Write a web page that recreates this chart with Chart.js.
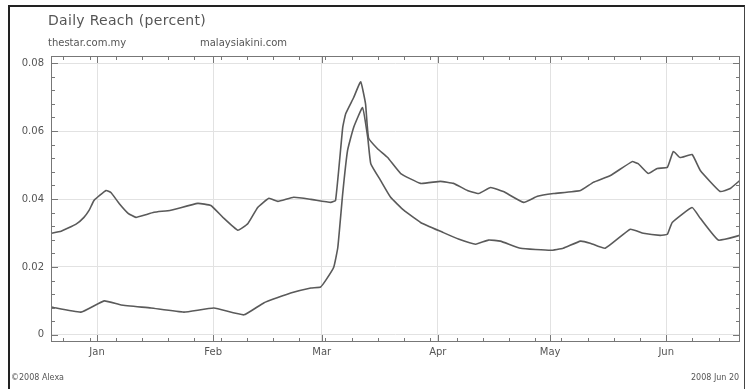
<!DOCTYPE html>
<html>
<head>
<meta charset="utf-8">
<script src="https://cdn.jsdelivr.net/npm/chart.js@4/dist/chart.umd.min.js"></script>
<style>
  body { margin: 0; width: 745px; height: 389px; overflow: hidden; background: #fff; position: relative;
         font-family: "DejaVu Sans", sans-serif; color: #555; }
  #frame { position: absolute; left: 8px; top: 5px; width: 734px; height: 400px;
           border-left: 2px solid #222; border-top: 2px solid #222; border-right: 1px solid #444; }
  #chartBox { position: absolute; left: 0; top: 0; width: 745px; height: 389px; }
  .txt { position: absolute; white-space: nowrap; }
  #title { left: 48px; top: 12px; font-size: 14px; letter-spacing: 0.3px; color: #555; }
  #leg1 { left: 48px; top: 37px; font-size: 10px; }
  #leg2 { left: 200px; top: 37px; font-size: 10px; }
  #foot1 { left: 11px; top: 373px; font-size: 8px; }
  #foot2 { left: 691px; top: 373px; font-size: 8px; }
</style>
</head>
<body>
<div id="frame"></div>
<div id="chartBox"><canvas id="chartCanvas"></canvas></div>
<div class="txt" id="title">Daily Reach (percent)</div>
<div class="txt" id="leg1">thestar.com.my</div>
<div class="txt" id="leg2">malaysiakini.com</div>
<div class="txt" id="foot1">©2008 Alexa</div>
<div class="txt" id="foot2">2008 Jun 20</div>
<script>
// days counted from 2008 Jan 1 (Dec 20 = -12, Jun 20 = 171)
const monthStarts = [0, 31, 60, 91, 121, 152];
const monthLabels = ['Jan', 'Feb', 'Mar', 'Apr', 'May', 'Jun'];
const reachTicks = [0, 0.02, 0.04, 0.06, 0.08];

const starDays = [-12.3, -9.6, -5.6, -3.5, -2.1, -0.8, 2.4, 3.7, 5.9, 8.3, 10.4, 12.5, 15.2, 19.7, 26.9,
                  30.4, 33.6, 37.6, 40.3, 42.9, 45.9, 48.3, 52.5, 57.1, 62.4, 63.7, 65.6, 66.4, 68.5, 70.4,
                  71.7, 72.5, 74.9, 77.6, 81.1, 86.4, 91.7, 95.2, 98.9, 101.9, 105.1, 108.5, 113.9, 117.6,
                  121.9, 129.1, 132.5, 137.1, 142.9, 144.5, 147.2, 149.6, 152.3, 153.9, 155.7, 158.9, 161.1,
                  166.4, 169.1, 171.7];
const starReach = [0.0299, 0.0305, 0.0326, 0.0346, 0.0367, 0.0396, 0.0425, 0.0419, 0.0387, 0.0358, 0.0346,
                   0.0352, 0.0361, 0.0367, 0.0387, 0.0381, 0.0346, 0.0308, 0.0328, 0.0375, 0.0402, 0.0393,
                   0.0405, 0.0399, 0.0390, 0.0396, 0.0610, 0.0651, 0.0698, 0.0745, 0.0680, 0.0580, 0.0548,
                   0.0522, 0.0475, 0.0446, 0.0452, 0.0446, 0.0425, 0.0416, 0.0434, 0.0422, 0.0390, 0.0408,
                   0.0416, 0.0425, 0.0449, 0.0469, 0.0510, 0.0504, 0.0475, 0.0490, 0.0493, 0.0540, 0.0522,
                   0.0531, 0.0484, 0.0422, 0.0431, 0.0455];

const kiniDays = [-12.3, -4.3, 1.9, 6.4, 14.4, 23.2, 31.2, 39.2, 44.5, 51.7, 57.1, 59.7, 61.1, 63.2, 64.3,
                  65.6, 66.9, 68.5, 70.9, 72.3, 73.1, 75.7, 78.4, 81.9, 86.4, 92.3, 96.5, 101.1, 104.5, 107.7,
                  113.1, 121.1, 124.5, 129.1, 131.7, 135.7, 142.4, 145.9, 150.4, 152.3, 153.6, 158.9, 161.1,
                  165.9, 171.7];
const kiniReach = [0.0082, 0.0067, 0.0100, 0.0088, 0.0079, 0.0067, 0.0079, 0.0059, 0.0094, 0.0123, 0.0138,
                   0.0141, 0.0161, 0.0199, 0.0258, 0.0416, 0.0543, 0.0610, 0.0669, 0.0580, 0.0504, 0.0455,
                   0.0405, 0.0367, 0.0331, 0.0302, 0.0282, 0.0267, 0.0279, 0.0276, 0.0255, 0.0249, 0.0255,
                   0.0276, 0.0270, 0.0255, 0.0311, 0.0299, 0.0293, 0.0296, 0.0331, 0.0375, 0.0343, 0.0279,
                   0.0293];

function toPoints(days, values) {
    return days.map((d, i) => ({x: d, y: values[i]}));
}

const frameTicks = {
    // plot frame plus the small inward tick marks of the original
    id: 'frameTicks',
    afterDatasetsDraw(chart) {
        const {ctx, chartArea: a, scales: {x, y}} = chart;
        ctx.save();
        ctx.strokeStyle = '#777';
        ctx.lineWidth = 1;
        ctx.strokeRect(a.left + 0.5, a.top + 0.5, a.right - a.left - 1, a.bottom - a.top - 1);
        ctx.beginPath();
        for (let d = -9; d <= 171; d += 7) {  // weekly (Sundays)
            const px = Math.round(x.getPixelForValue(d)) + 0.5;
            ctx.moveTo(px, a.bottom); ctx.lineTo(px, a.bottom - 4);
            ctx.moveTo(px, a.top); ctx.lineTo(px, a.top + 4);
        }
        monthStarts.forEach(d => {
            const px = Math.round(x.getPixelForValue(d)) + 0.5;
            ctx.moveTo(px, a.bottom); ctx.lineTo(px, a.bottom - 7);
            ctx.moveTo(px, a.top); ctx.lineTo(px, a.top + 7);
        });
        for (let k = 0; k <= 20; k++) {
            const v = k * 0.004;
            const py = Math.round(y.getPixelForValue(v)) + 0.5;
            const len = (k % 5 === 0) ? 7 : 4;
            ctx.moveTo(a.left, py); ctx.lineTo(a.left + len, py);
            ctx.moveTo(a.right, py); ctx.lineTo(a.right - len, py);
        }
        ctx.stroke();
        ctx.restore();
    }
};

const lineStyle = {
    borderColor: '#5a5a5a',
    borderWidth: 1.6,
    pointRadius: 0,
    tension: 0.12,
    fill: false
};

new Chart(document.getElementById('chartCanvas').getContext('2d'), {
    type: 'line',
    data: {
        datasets: [
            Object.assign({label: 'thestar.com.my', data: toPoints(starDays, starReach)}, lineStyle),
            Object.assign({label: 'malaysiakini.com', data: toPoints(kiniDays, kiniReach)}, lineStyle)
        ]
    },
    options: {
        responsive: true,
        maintainAspectRatio: false,
        animation: false,
        layout: {padding: {left: 0, right: 5, top: 56, bottom: 0}},
        plugins: {
            legend: {display: false},
            tooltip: {enabled: false}
        },
        scales: {
            x: {
                type: 'linear',
                min: -12.3,
                max: 171.7,
                afterBuildTicks: (scale) => { scale.ticks = monthStarts.map(v => ({value: v})); },
                afterFit: (scale) => { scale.height = 47; },
                ticks: {
                    padding: 4,
                    color: '#555',
                    font: {family: 'DejaVu Sans', size: 10},
                    callback: (v) => monthLabels[monthStarts.indexOf(v)]
                },
                grid: {color: '#e2e2e2', drawTicks: false},
                border: {display: false}
            },
            y: {
                min: -0.0021,
                max: 0.0821,
                afterBuildTicks: (scale) => { scale.ticks = reachTicks.map(v => ({value: v})); },
                afterFit: (scale) => { scale.width = 51; },
                ticks: {
                    padding: 7,
                    color: '#555',
                    font: {family: 'DejaVu Sans', size: 10},
                    callback: (v) => v === 0 ? '0' : v.toFixed(2)
                },
                grid: {color: '#e2e2e2', drawTicks: false},
                border: {display: false}
            }
        }
    },
    plugins: [frameTicks]
});
</script>
</body>
</html>
